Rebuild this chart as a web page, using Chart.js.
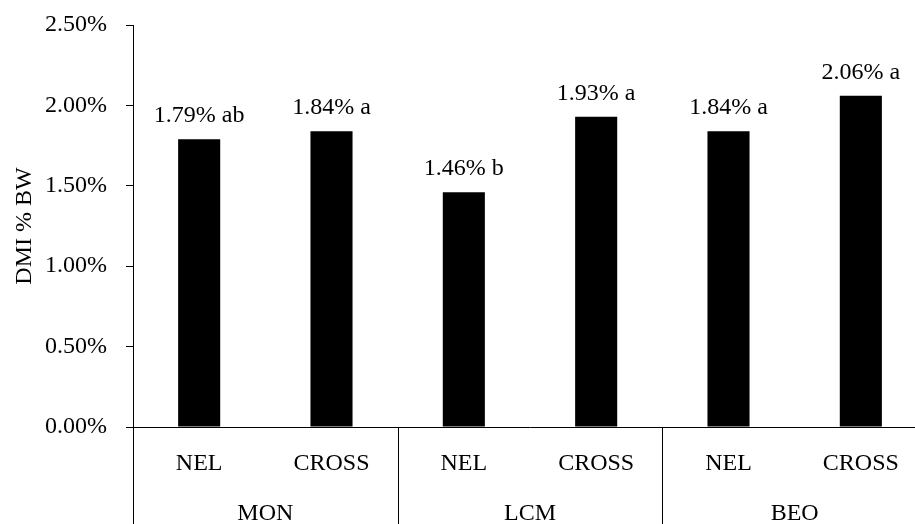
<!DOCTYPE html>
<html>
<head>
<meta charset="utf-8">
<script src="https://cdn.jsdelivr.net/npm/chart.js@4"></script>
<style>
  body { margin: 0; overflow: hidden; background: #fff; }
  #wrap { width: 927px; height: 524px; }
</style>
</head>
<body>
<div id="wrap"><canvas id="chart"></canvas></div>
<script>
const categories = ['NEL', 'CROSS', 'NEL', 'CROSS', 'NEL', 'CROSS'];
const groups = ['MON', 'LCM', 'BEO'];
const values = [1.79, 1.84, 1.46, 1.93, 1.84, 2.06];
const letters = ['ab', 'a', 'b', 'a', 'a', 'a'];
const yTicks = [0, 0.5, 1, 1.5, 2, 2.5];

const fontFamily = '"Liberation Serif", "Times New Roman", serif';

// value labels, group row and separators under the axis
const extras = {
    id: 'extras',
    afterDraw(chart) {
        const ctx = chart.ctx;
        const x = chart.scales.x;
        const area = chart.chartArea;
        ctx.save();
        ctx.font = '24px ' + fontFamily;
        ctx.fillStyle = '#000';
        ctx.textAlign = 'center';
        ctx.textBaseline = 'alphabetic';

        chart.getDatasetMeta(0).data.forEach((bar, i) => {
            ctx.fillText(values[i].toFixed(2) + '% ' + letters[i], bar.x, bar.y - 17);
        });

        const per = categories.length / groups.length;
        ctx.strokeStyle = '#000';
        ctx.lineWidth = 1;
        groups.forEach((g, gi) => {
            const first = gi * per;
            const last = first + per - 1;
            const left = first === 0 ? area.left : (x.getPixelForValue(first - 1) + x.getPixelForValue(first)) / 2;
            const center = (x.getPixelForValue(first) + x.getPixelForValue(last)) / 2;
            ctx.fillText(g, center, 520);
            const lx = Math.round(left) + 0.5;
            ctx.beginPath();
            ctx.moveTo(lx, area.bottom);
            ctx.lineTo(lx, chart.height);
            ctx.stroke();
        });
        ctx.restore();
    }
};

new Chart(document.getElementById('chart'), {
    type: 'bar',
    data: {
        labels: categories,
        datasets: [{
            data: values,
            backgroundColor: '#000',
            borderWidth: 0,
            categoryPercentage: 1,
            barPercentage: 0.318
        }]
    },
    options: {
        responsive: true,
        maintainAspectRatio: false,
        animation: false,
        layout: { padding: { top: 25, right: 0, bottom: 0, left: 0 } },
        plugins: {
            legend: { display: false },
            tooltip: { enabled: false }
        },
        scales: {
            x: {
                offset: true,
                grid: { display: false },
                border: { display: true, color: '#000', width: 1 },
                ticks: {
                    color: '#000',
                    font: { family: fontFamily, size: 24 },
                    padding: 14,
                    maxRotation: 0,
                    autoSkip: false
                },
                afterFit(scale) { scale.height = 97; }
            },
            y: {
                min: 0,
                max: 2.5,
                afterBuildTicks(scale) { scale.ticks = yTicks.map(v => ({ value: v })); },
                grid: { drawOnChartArea: false, drawTicks: true, tickLength: 7, color: '#000' },
                border: { display: true, color: '#000', width: 1 },
                ticks: {
                    color: '#000',
                    font: { family: fontFamily, size: 24 },
                    padding: 19,
                    callback: v => v.toFixed(2) + '%'
                },
                title: {
                    display: true,
                    text: 'DMI % BW',
                    color: '#000',
                    font: { family: fontFamily, size: 24 },
                    padding: { top: 10, bottom: 0 }
                },
                afterFit(scale) {
                    scale.width = 133;
                    scale.paddingTop = 0;
                    scale.paddingBottom = 0;
                }
            }
        }
    },
    plugins: [extras]
});
</script>
</body>
</html>
